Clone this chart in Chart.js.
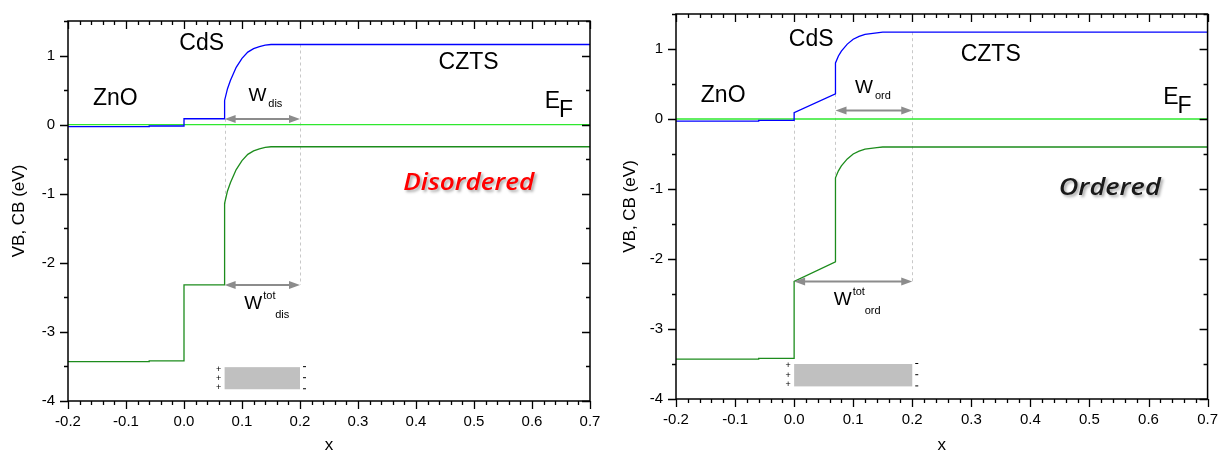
<!DOCTYPE html>
<html>
<head>
<meta charset="utf-8">
<script src="https://cdn.jsdelivr.net/npm/chart.js@4.4.0/dist/chart.umd.min.js"></script>
<style>
  body { margin: 0; background: #fff; width: 1222px; height: 456px; overflow: hidden; }
  .panel { position: absolute; top: 0; width: 611px; height: 456px; }
  #left { left: 0; }
  #right { left: 611px; }
</style>
</head>
<body>
<div class="panel" id="left"><canvas id="chartDis" width="611" height="456"></canvas></div>
<div class="panel" id="right"><canvas id="chartOrd" width="611" height="456"></canvas></div>
<script>
// axis ticks
const xTicks = [-0.2, -0.1, 0.0, 0.1, 0.2, 0.3, 0.4, 0.5, 0.6, 0.7];
const yTicks = [-4, -3, -2, -1, 0, 1];

// Fermi level (both panels)
const efX = [-0.2, 0.7];
const efY = [0, 0];

// disordered: conduction band edge (blue) and valence band edge (green)
const disCBx = [-0.2, -0.06, -0.06, 0, 0, 0.07, 0.07, 0.075, 0.08, 0.09, 0.10, 0.11, 0.12, 0.13, 0.14, 0.15, 0.2, 0.7];
const disCBy = [-0.03, -0.03, -0.02, -0.02, 0.085, 0.085, 0.35, 0.52, 0.64, 0.83, 0.96, 1.05, 1.10, 1.13, 1.15, 1.16, 1.16, 1.16];
const disVBx = [-0.2, -0.06, -0.06, 0, 0, 0.07, 0.07, 0.075, 0.08, 0.09, 0.10, 0.11, 0.12, 0.13, 0.14, 0.15, 0.2, 0.7];
const disVBy = [-3.43, -3.43, -3.42, -3.42, -2.32, -2.32, -1.14, -0.96, -0.84, -0.65, -0.52, -0.43, -0.38, -0.35, -0.33, -0.32, -0.32, -0.32];

// ordered
const ordCBx = [-0.2, -0.06, -0.06, 0, 0, 0.07, 0.07, 0.075, 0.08, 0.09, 0.10, 0.11, 0.12, 0.13, 0.14, 0.15, 0.2, 0.7];
const ordCBy = [-0.03, -0.03, -0.02, -0.02, 0.09, 0.36, 0.80, 0.90, 0.97, 1.07, 1.14, 1.18, 1.21, 1.22, 1.23, 1.24, 1.24, 1.24];
const ordVBx = [-0.2, -0.06, -0.06, 0, 0, 0.07, 0.07, 0.075, 0.08, 0.09, 0.10, 0.11, 0.12, 0.13, 0.14, 0.15, 0.2, 0.7];
const ordVBy = [-3.43, -3.43, -3.42, -3.42, -2.32, -2.04, -0.84, -0.74, -0.67, -0.57, -0.50, -0.46, -0.43, -0.42, -0.41, -0.40, -0.40, -0.40];

// guide lines [x, yTop, yBottom], arrows [x1, x2, y], charge box [x1, x2, yTop, yBottom]
const disGuides = [[0.07, 0.085, -1.14], [0.2, 1.16, -2.32]];
const disArrows = [[0.07, 0.2, 0.08], [0.07, 0.2, -2.32]];
const disBox = [0.07, 0.2, -3.51, -3.83];
const ordGuides = [[0, 0.09, -2.32], [0.07, 0.36, -0.84], [0.2, 1.24, -2.32]];
const ordArrows = [[0.07, 0.2, 0.12], [0, 0.2, -2.32]];
const ordBox = [0, 0.2, -3.5, -3.82];

const FONT = '"Liberation Sans", Arial, sans-serif';

function pts(xs, ys) {
  return xs.map((x, i) => ({ x: x, y: ys[i] }));
}

function arrowHead(ctx, x, y, dir) {
  ctx.beginPath();
  ctx.moveTo(x, y);
  ctx.lineTo(x - dir * 11, y - 4);
  ctx.lineTo(x - dir * 11, y + 4);
  ctx.closePath();
  ctx.fill();
}

// W with optional super/subscript, position = left/baseline of the W
function wLabel(ctx, px, py, sup, sub) {
  ctx.fillStyle = '#000';
  ctx.textBaseline = 'alphabetic';
  ctx.textAlign = 'left';
  ctx.font = '19px ' + FONT;
  ctx.fillText('W', px, py);
  const w = ctx.measureText('W').width;
  ctx.font = '11px ' + FONT;
  if (sup) {
    ctx.fillText(sup, px + w + 1, py - 10);
    ctx.fillText(sub, px + w + 13, py + 9);
  } else {
    ctx.fillText(sub, px + w + 2, py + 6);
  }
}

const decor = {
  id: 'decor',
  beforeDatasetsDraw(chart, args, o) {
    const ctx = chart.ctx, xs = chart.scales.x, ys = chart.scales.y;
    ctx.save();
    // dashed guides
    ctx.strokeStyle = '#c8c8c8';
    ctx.lineWidth = 1;
    ctx.setLineDash([3, 3]);
    o.guides.forEach(g => {
      const px = Math.round(xs.getPixelForValue(g[0])) + 0.5;
      ctx.beginPath();
      ctx.moveTo(px, ys.getPixelForValue(g[1]));
      ctx.lineTo(px, ys.getPixelForValue(g[2]));
      ctx.stroke();
    });
    ctx.setLineDash([]);
    // charge box
    const b = o.box;
    const bx1 = xs.getPixelForValue(b[0]), bx2 = xs.getPixelForValue(b[1]);
    const by1 = ys.getPixelForValue(b[2]), by2 = ys.getPixelForValue(b[3]);
    ctx.fillStyle = '#c0c0c0';
    ctx.fillRect(bx1, by1, bx2 - bx1, by2 - by1);
    ctx.fillStyle = '#000';
    ctx.font = '9px ' + FONT;
    ctx.textAlign = 'center';
    ctx.textBaseline = 'middle';
    for (let k = 0; k < 3; k++) {
      const yy = by1 + 2 + k * (by2 - by1 - 4) / 2;
      ctx.fillText('+', bx1 - 6, yy);
      ctx.fillRect(bx2 + 3, by1 - 1 + k * (by2 - by1) / 2, 3, 1);
    }
    ctx.restore();
  },
  afterDatasetsDraw(chart, args, o) {
    const ctx = chart.ctx, xs = chart.scales.x, ys = chart.scales.y;
    const a = chart.chartArea;
    ctx.save();
    // arrows
    ctx.strokeStyle = '#8c8c8c';
    ctx.fillStyle = '#8c8c8c';
    ctx.lineWidth = 2;
    o.arrows.forEach(r => {
      const x1 = xs.getPixelForValue(r[0]), x2 = xs.getPixelForValue(r[1]);
      const y = ys.getPixelForValue(r[2]);
      ctx.beginPath();
      ctx.moveTo(x1 + 8, y);
      ctx.lineTo(x2 - 8, y);
      ctx.stroke();
      arrowHead(ctx, x1, y, -1);
      arrowHead(ctx, x2, y, 1);
    });
    // frame and ticks
    ctx.strokeStyle = '#000';
    ctx.lineWidth = 1.5;
    ctx.strokeRect(a.left, a.top, a.right - a.left, a.bottom - a.top);
    ctx.lineWidth = 1.3;
    ctx.beginPath();
    for (let i = 0; i <= 45; i++) {
      const v = -0.2 + i * 0.02;
      const px = Math.round(xs.getPixelForValue(v)) + 0.5;
      const len = i % 5 === 0 ? 8 : 4;
      ctx.moveTo(px, a.bottom); ctx.lineTo(px, a.bottom + len);
      ctx.moveTo(px, a.top); ctx.lineTo(px, a.top + len);
    }
    for (let i = 0; i <= 11; i++) {
      const v = -4 + i * 0.5;
      const py = Math.round(ys.getPixelForValue(v)) + 0.5;
      const len = i % 2 === 0 ? 8 : 4;
      ctx.moveTo(a.left, py); ctx.lineTo(a.left - len, py);
      ctx.moveTo(a.right, py); ctx.lineTo(a.right - len, py);
    }
    ctx.stroke();
    // region labels
    ctx.fillStyle = '#000';
    ctx.textAlign = 'left';
    ctx.textBaseline = 'alphabetic';
    ctx.font = '23px ' + FONT;
    o.labels.forEach(l => {
      ctx.fillText(l[0], xs.getPixelForValue(l[1]), ys.getPixelForValue(l[2]));
    });
    // E_F
    const ex = xs.getPixelForValue(o.ef[0]), ey = ys.getPixelForValue(o.ef[1]);
    ctx.fillText('E', ex, ey);
    ctx.fillText('F', ex + ctx.measureText('E').width - 1, ey + 9);
    // W labels
    o.wl.forEach(w => wLabel(ctx, xs.getPixelForValue(w[0]), ys.getPixelForValue(w[1]), w[2], w[3]));
    // phase title with shadow
    const t = o.title;
    ctx.font = 'italic 600 24px "Open Sans", sans-serif';
    const tw = ctx.measureText(t.text).width;
    ctx.translate(xs.getPixelForValue(t.x), ys.getPixelForValue(t.y));
    ctx.scale(t.width / tw, 1);
    ctx.shadowColor = 'rgba(0,0,0,0.35)';
    ctx.shadowOffsetX = 2;
    ctx.shadowOffsetY = 2;
    ctx.shadowBlur = 3;
    ctx.fillStyle = t.color;
    ctx.fillText(t.text, 0, 0);
    ctx.restore();
  }
};

function makeChart(id, cb, vb, cfg) {
  return new Chart(document.getElementById(id), {
    type: 'line',
    data: {
      datasets: [
        { data: cb, borderColor: '#0000ff' },
        { data: pts(efX, efY), borderColor: '#2ee82e' },
        { data: vb, borderColor: '#1c8c1c' }
      ]
    },
    options: {
      responsive: false,
      animation: false,
      layout: { padding: { top: cfg.top, right: cfg.right, left: 0, bottom: 0 } },
      elements: { point: { radius: 0 }, line: { borderWidth: 1.3, tension: 0 } },
      plugins: { legend: { display: false }, tooltip: { enabled: false }, decor: cfg.decor },
      scales: {
        x: {
          type: 'linear', min: -0.2, max: 0.7,
          grid: { display: false, tickLength: 8 },
          border: { display: false },
          afterBuildTicks: s => { s.ticks = xTicks.map(v => ({ value: v })); },
          afterFit: s => { s.height = cfg.xh; },
          ticks: { autoSkip: false, maxRotation: 0, padding: 4, color: '#000',
                   font: { family: FONT, size: 15 }, callback: v => v.toFixed(1) },
          title: { display: true, text: 'x', color: '#000', padding: 0, font: { family: FONT, size: 17 } }
        },
        y: {
          type: 'linear', min: -4, max: 1.5,
          grid: { display: false, tickLength: 8 },
          border: { display: false },
          afterBuildTicks: s => { s.ticks = yTicks.map(v => ({ value: v })); },
          afterFit: s => { s.width = cfg.yw; },
          ticks: { padding: 5, color: '#000', font: { family: FONT, size: 15 }, callback: v => String(v) },
          title: { display: true, text: 'VB, CB (eV)', color: '#000', padding: { top: 9, bottom: 0 },
                   font: { family: FONT, size: 17 } }
        }
      }
    },
    plugins: [decor]
  });
}

makeChart('chartDis', pts(disCBx, disCBy), pts(disVBx, disVBy), {
  top: 21, right: 21, yw: 68, xh: 55,
  decor: {
    guides: disGuides, arrows: disArrows, box: disBox,
    labels: [['ZnO', -0.157, 0.28], ['CdS', -0.008, 1.08], ['CZTS', 0.439, 0.80]],
    ef: [0.622, 0.24],
    wl: [[0.111, 0.34, null, 'dis'], [0.104, -2.67, 'tot', 'dis']],
    title: { text: 'Disordered', x: 0.378, y: -0.95, width: 131, color: '#ff0000' }
  }
});

makeChart('chartOrd', pts(ordCBx, ordCBy), pts(ordVBx, ordVBy), {
  top: 9, right: 11, yw: 65, xh: 57,
  decor: {
    guides: ordGuides, arrows: ordArrows, box: ordBox,
    labels: [['ZnO', -0.158, 0.24], ['CdS', -0.009, 1.05], ['CZTS', 0.282, 0.83]],
    ef: [0.625, 0.21],
    wl: [[0.103, 0.37, null, 'ord'], [0.067, -2.65, 'tot', 'ord']],
    title: { text: 'Ordered', x: 0.448, y: -1.09, width: 102, color: '#1a1a1a' }
  }
});
</script>
</body>
</html>
